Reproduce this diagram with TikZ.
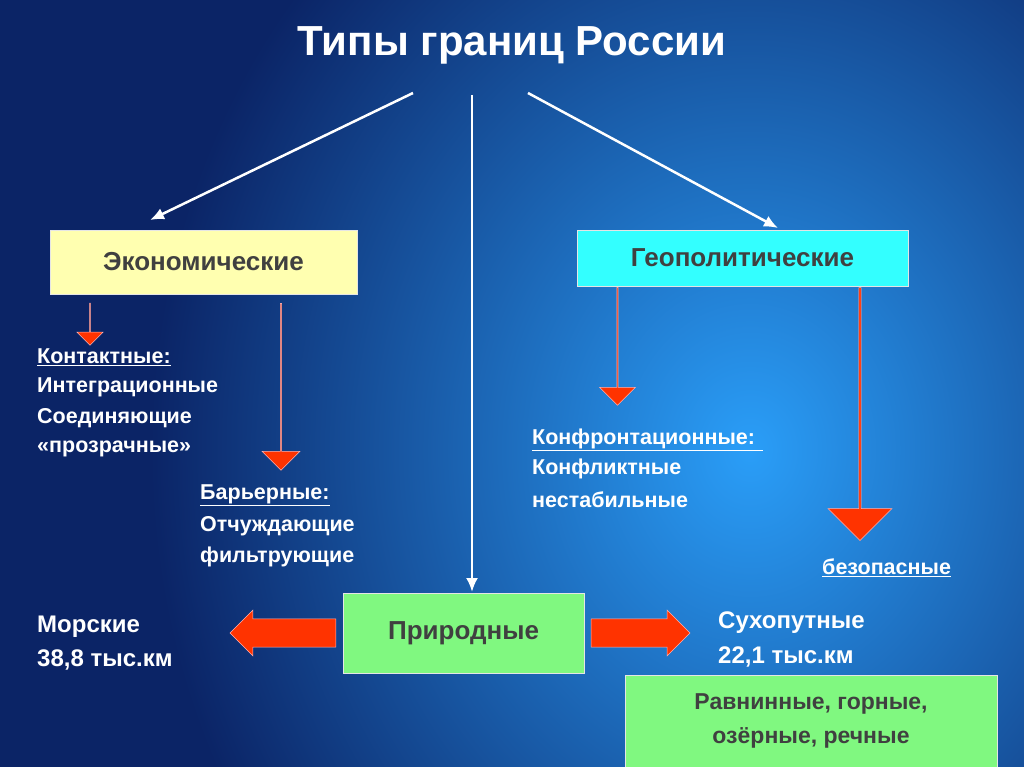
\documentclass[tikz,border=0pt]{standalone}
\usepackage{fontspec}
\setmainfont{Liberation Sans}
\usetikzlibrary{shapes.arrows,shadows,arrows.meta}
\definecolor{bgin}{HTML}{2A9EF8}
\definecolor{bgout}{HTML}{0B2466}
\definecolor{boxtxt}{HTML}{404040}
\definecolor{redarr}{HTML}{FF3300}
\definecolor{ylw}{HTML}{FFFFB0}
\definecolor{cyn}{HTML}{33FFFF}
\definecolor{grn}{HTML}{80F880}
\begin{document}
\begin{tikzpicture}[x=1pt,y=-1pt,
  box/.style={draw=white!80!gray,line width=0.6pt,font=\bfseries\fontsize{26}{30}\selectfont,text=boxtxt,inner sep=0pt},
  wt/.style={text=white,font=\bfseries\fontsize{21.5}{25}\selectfont,anchor=west,inner sep=0pt},
  wline/.style={draw=white,line width=2.5pt,-{Latex[length=14pt,width=12pt]}},
  redv/.style={single arrow,shape border rotate=270,fill=redarr,draw=white!70!red,line width=0.5pt,inner xsep=0pt,minimum height=#1},
  redh/.style={single arrow,fill=redarr,draw=white!70!red,line width=0.5pt,inner xsep=0pt,minimum height=#1}]
\useasboundingbox (0,0) rectangle (1024,767);
\clip (0,0) rectangle (1024,767);
\fill[bgout] (0,0) rectangle (1024,767);
\shade[inner color=bgin,outer color=bgout] (150,-250) rectangle (1350,1150);
\node (title) [text=white,font=\bfseries\fontsize{42}{48}\selectfont] at (512,45) {Типы границ России};
\coordinate (t1) at (413,93); \coordinate (t2) at (472,95); \coordinate (t3) at (528,93);
\node[box,fill=ylw,minimum width=307pt,minimum height=64pt] (eco) at (203.5,262) {Экономические};
\node[box,fill=cyn,minimum width=331pt,minimum height=56pt] (geo) at (742.5,258) {Геополитические};
\node[box,fill=grn,minimum width=241pt,minimum height=80pt] (nat) at (463.5,633) {Природные};
\node[box,fill=grn,minimum width=372pt,minimum height=92pt,align=center,font=\bfseries\fontsize{23}{34}\selectfont] (rel) at (811,721) {Равнинные, горные,\\ озёрные, речные};
\coordinate (ecoT) at (150,220); \coordinate (geoT) at (778,228); \coordinate (natT) at (472,592);
\draw[wline] (t1) -- (ecoT);
\draw[wline] (t2) -- (natT);
\draw[wline] (t3) -- (geoT);
\node[redv=42pt,inner ysep=9pt,minimum width=26pt] (r1) at (90,324) {};
\node[redv=167pt,inner ysep=10pt,minimum width=38pt] (r2) at (281,386.5) {};
\node[redv=118pt,inner ysep=11pt,minimum width=36pt] (r3) at (617.5,346) {};
\node[redv=253pt,inner ysep=12pt,minimum width=64pt] (r4) at (860,413.5) {};
\node[redh=106pt,inner ysep=11pt,minimum width=46pt,shape border rotate=180] (rl) at (290,633) {};
\node[redh=99pt,inner ysep=11pt,minimum width=46pt] (rr) at (633.5,633) {};
\node[wt] (k1) at (37,357) {\underline{Контактные:}};
\node[wt] (k2) at (37,387) {Интеграционные};
\node[wt] (k3) at (37,418) {Соединяющие};
\node[wt] (k4) at (37,449) {«прозрачные»};
\node[wt] (b1) at (200,495) {\underline{Барьерные:}};
\node[wt] (b2) at (200,526) {Отчуждающие};
\node[wt] (b3) at (200,557) {фильтрующие};
\node[wt] (c1) at (532,440) {\underline{Конфронтационные: }};
\node[wt] (c2) at (532,469) {Конфликтные};
\node[wt] (c3) at (532,500) {нестабильные};
\node[wt] (s1) at (822,568) {\underline{безопасные}};
\node[wt,font=\bfseries\fontsize{24}{28}\selectfont] (m1) at (37,627) {Морские};
\node[wt,font=\bfseries\fontsize{24}{28}\selectfont] (m2) at (37,660) {38,8 тыс.км};
\node[wt,font=\bfseries\fontsize{24}{28}\selectfont] (p1) at (718,623) {Сухопутные};
\node[wt,font=\bfseries\fontsize{24}{28}\selectfont] (p2) at (718,657) {22,1 тыс.км};
\end{tikzpicture}
\end{document}
